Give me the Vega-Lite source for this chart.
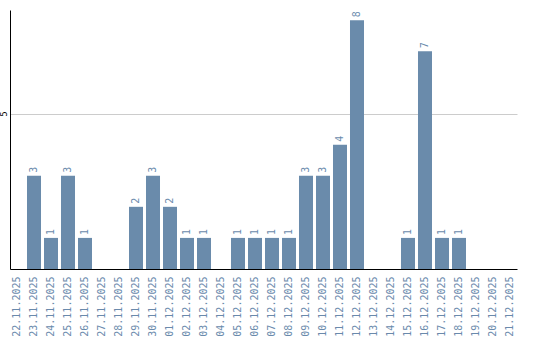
{
  "$schema": "https://vega.github.io/schema/vega-lite/v6.json",
  "autosize": {"type": "none"},
  "width": 507,
  "height": 259,
  "padding": {"left": 10, "top": 10, "right": 23, "bottom": 71},
  "background": "white",
  "data": {"values": [
    {"d": "22.11.2025", "v": 0},
    {"d": "23.11.2025", "v": 3},
    {"d": "24.11.2025", "v": 1},
    {"d": "25.11.2025", "v": 3},
    {"d": "26.11.2025", "v": 1},
    {"d": "27.11.2025", "v": 0},
    {"d": "28.11.2025", "v": 0},
    {"d": "29.11.2025", "v": 2},
    {"d": "30.11.2025", "v": 3},
    {"d": "01.12.2025", "v": 2},
    {"d": "02.12.2025", "v": 1},
    {"d": "03.12.2025", "v": 1},
    {"d": "04.12.2025", "v": 0},
    {"d": "05.12.2025", "v": 1},
    {"d": "06.12.2025", "v": 1},
    {"d": "07.12.2025", "v": 1},
    {"d": "08.12.2025", "v": 1},
    {"d": "09.12.2025", "v": 3},
    {"d": "10.12.2025", "v": 3},
    {"d": "11.12.2025", "v": 4},
    {"d": "12.12.2025", "v": 8},
    {"d": "13.12.2025", "v": 0},
    {"d": "14.12.2025", "v": 0},
    {"d": "15.12.2025", "v": 1},
    {"d": "16.12.2025", "v": 7},
    {"d": "17.12.2025", "v": 1},
    {"d": "18.12.2025", "v": 1},
    {"d": "19.12.2025", "v": 0},
    {"d": "20.12.2025", "v": 0},
    {"d": "21.12.2025", "v": 0}
  ]},
  "encoding": {
    "x": {
      "field": "d", "type": "nominal", "sort": null,
      "scale": {"paddingInner": 0.176, "paddingOuter": 0},
      "axis": {
        "title": null, "labelAngle": -90, "labelFont": "DejaVu Sans Mono",
        "labelFontSize": 10, "labelColor": "#6a8aac", "ticks": false,
        "labelPadding": 7, "domainColor": "#000000", "domainWidth": 1, "grid": false
      }
    },
    "y": {
      "field": "v", "type": "quantitative",
      "scale": {"domain": [0, 8.33], "nice": false, "zero": true},
      "axis": {
        "title": null, "values": [5], "labelAngle": -90, "labelFontSize": 8,
        "labelColor": "#000000", "labelFont": "DejaVu Sans", "ticks": false, "labelPadding": 2,
        "domainColor": "#000000", "gridColor": "#cccccc", "grid": true,
        "labelAlign": "center", "labelBaseline": "bottom"
      }
    }
  },
  "layer": [
    {"mark": {"type": "bar", "color": "#6a8bab"}},
    {
      "transform": [{"filter": "datum.v > 0"}],
      "mark": {"type": "text", "angle": 270, "align": "left", "baseline": "middle", "dx": 3,
               "font": "DejaVu Sans Mono", "fontSize": 10, "color": "#6a8aac"},
      "encoding": {"text": {"field": "v", "type": "quantitative"}}
    }
  ],
  "config": {"view": {"stroke": null}}
}
